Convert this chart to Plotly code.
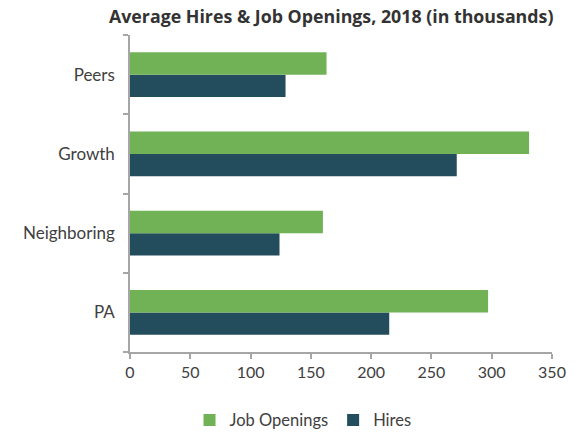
import plotly.graph_objects as go

# Regions, listed top to bottom
categories = ["Peers", "Growth", "Neighboring", "PA"]
job_openings = [163, 331, 160, 297]
hires = [129, 271, 124, 215]
x_ticks = [0, 50, 100, 150, 200, 250, 300, 350]

GREEN = "#71B257"
TEAL = "#234D5C"
TEXT = "#404040"
AXIS = "#A6A6A6"

fig = go.Figure()
fig.add_trace(go.Bar(
    y=categories, x=hires, name="Hires", orientation="h",
    marker=dict(color=TEAL, line=dict(width=0)),
))
fig.add_trace(go.Bar(
    y=categories, x=job_openings, name="Job Openings", orientation="h",
    marker=dict(color=GREEN, line=dict(width=0)),
))

fig.update_layout(
    width=576, height=432,
    margin=dict(l=130, r=24, t=35, b=80, autoexpand=False),
    paper_bgcolor="white", plot_bgcolor="white",
    barmode="group", bargap=0.435, bargroupgap=0,
    font=dict(family="Lato, Open Sans, sans-serif", size=16, color=TEXT),
    title=dict(
        text="<b>Average Hires & Job Openings, 2018 (in thousands)</b>",
        font=dict(family="Open Sans, sans-serif", size=17.8, color="#333333"),
        x=0.575, xanchor="center", xref="container",
        y=0.962, yanchor="middle", yref="container",
    ),
    legend=dict(
        orientation="h", traceorder="reversed",
        x=0.41, xanchor="center", y=-0.215, yanchor="middle",
        font=dict(size=16.5, color=TEXT),
        itemwidth=30,
    ),
    showlegend=True,
)
fig.update_xaxes(
    range=[0, 350], tickvals=x_ticks, ticktext=[str(v) for v in x_ticks],
    showgrid=False, zeroline=False,
    showline=True, linecolor=AXIS, linewidth=1.5,
    ticks="outside", ticklen=5, tickcolor=AXIS, tickwidth=1.5,
    tickfont=dict(size=16, color=TEXT),
)
fig.update_yaxes(
    categoryorder="array", categoryarray=categories[::-1],
    showgrid=False, zeroline=False,
    showline=True, linecolor=AXIS, linewidth=1.5,
    ticks="outside", tickson="boundaries", ticklen=5,
    tickcolor=AXIS, tickwidth=1.5,
    tickfont=dict(size=17, color=TEXT),
    ticklabelstandoff=10,
)

fig.write_html("out.html")
